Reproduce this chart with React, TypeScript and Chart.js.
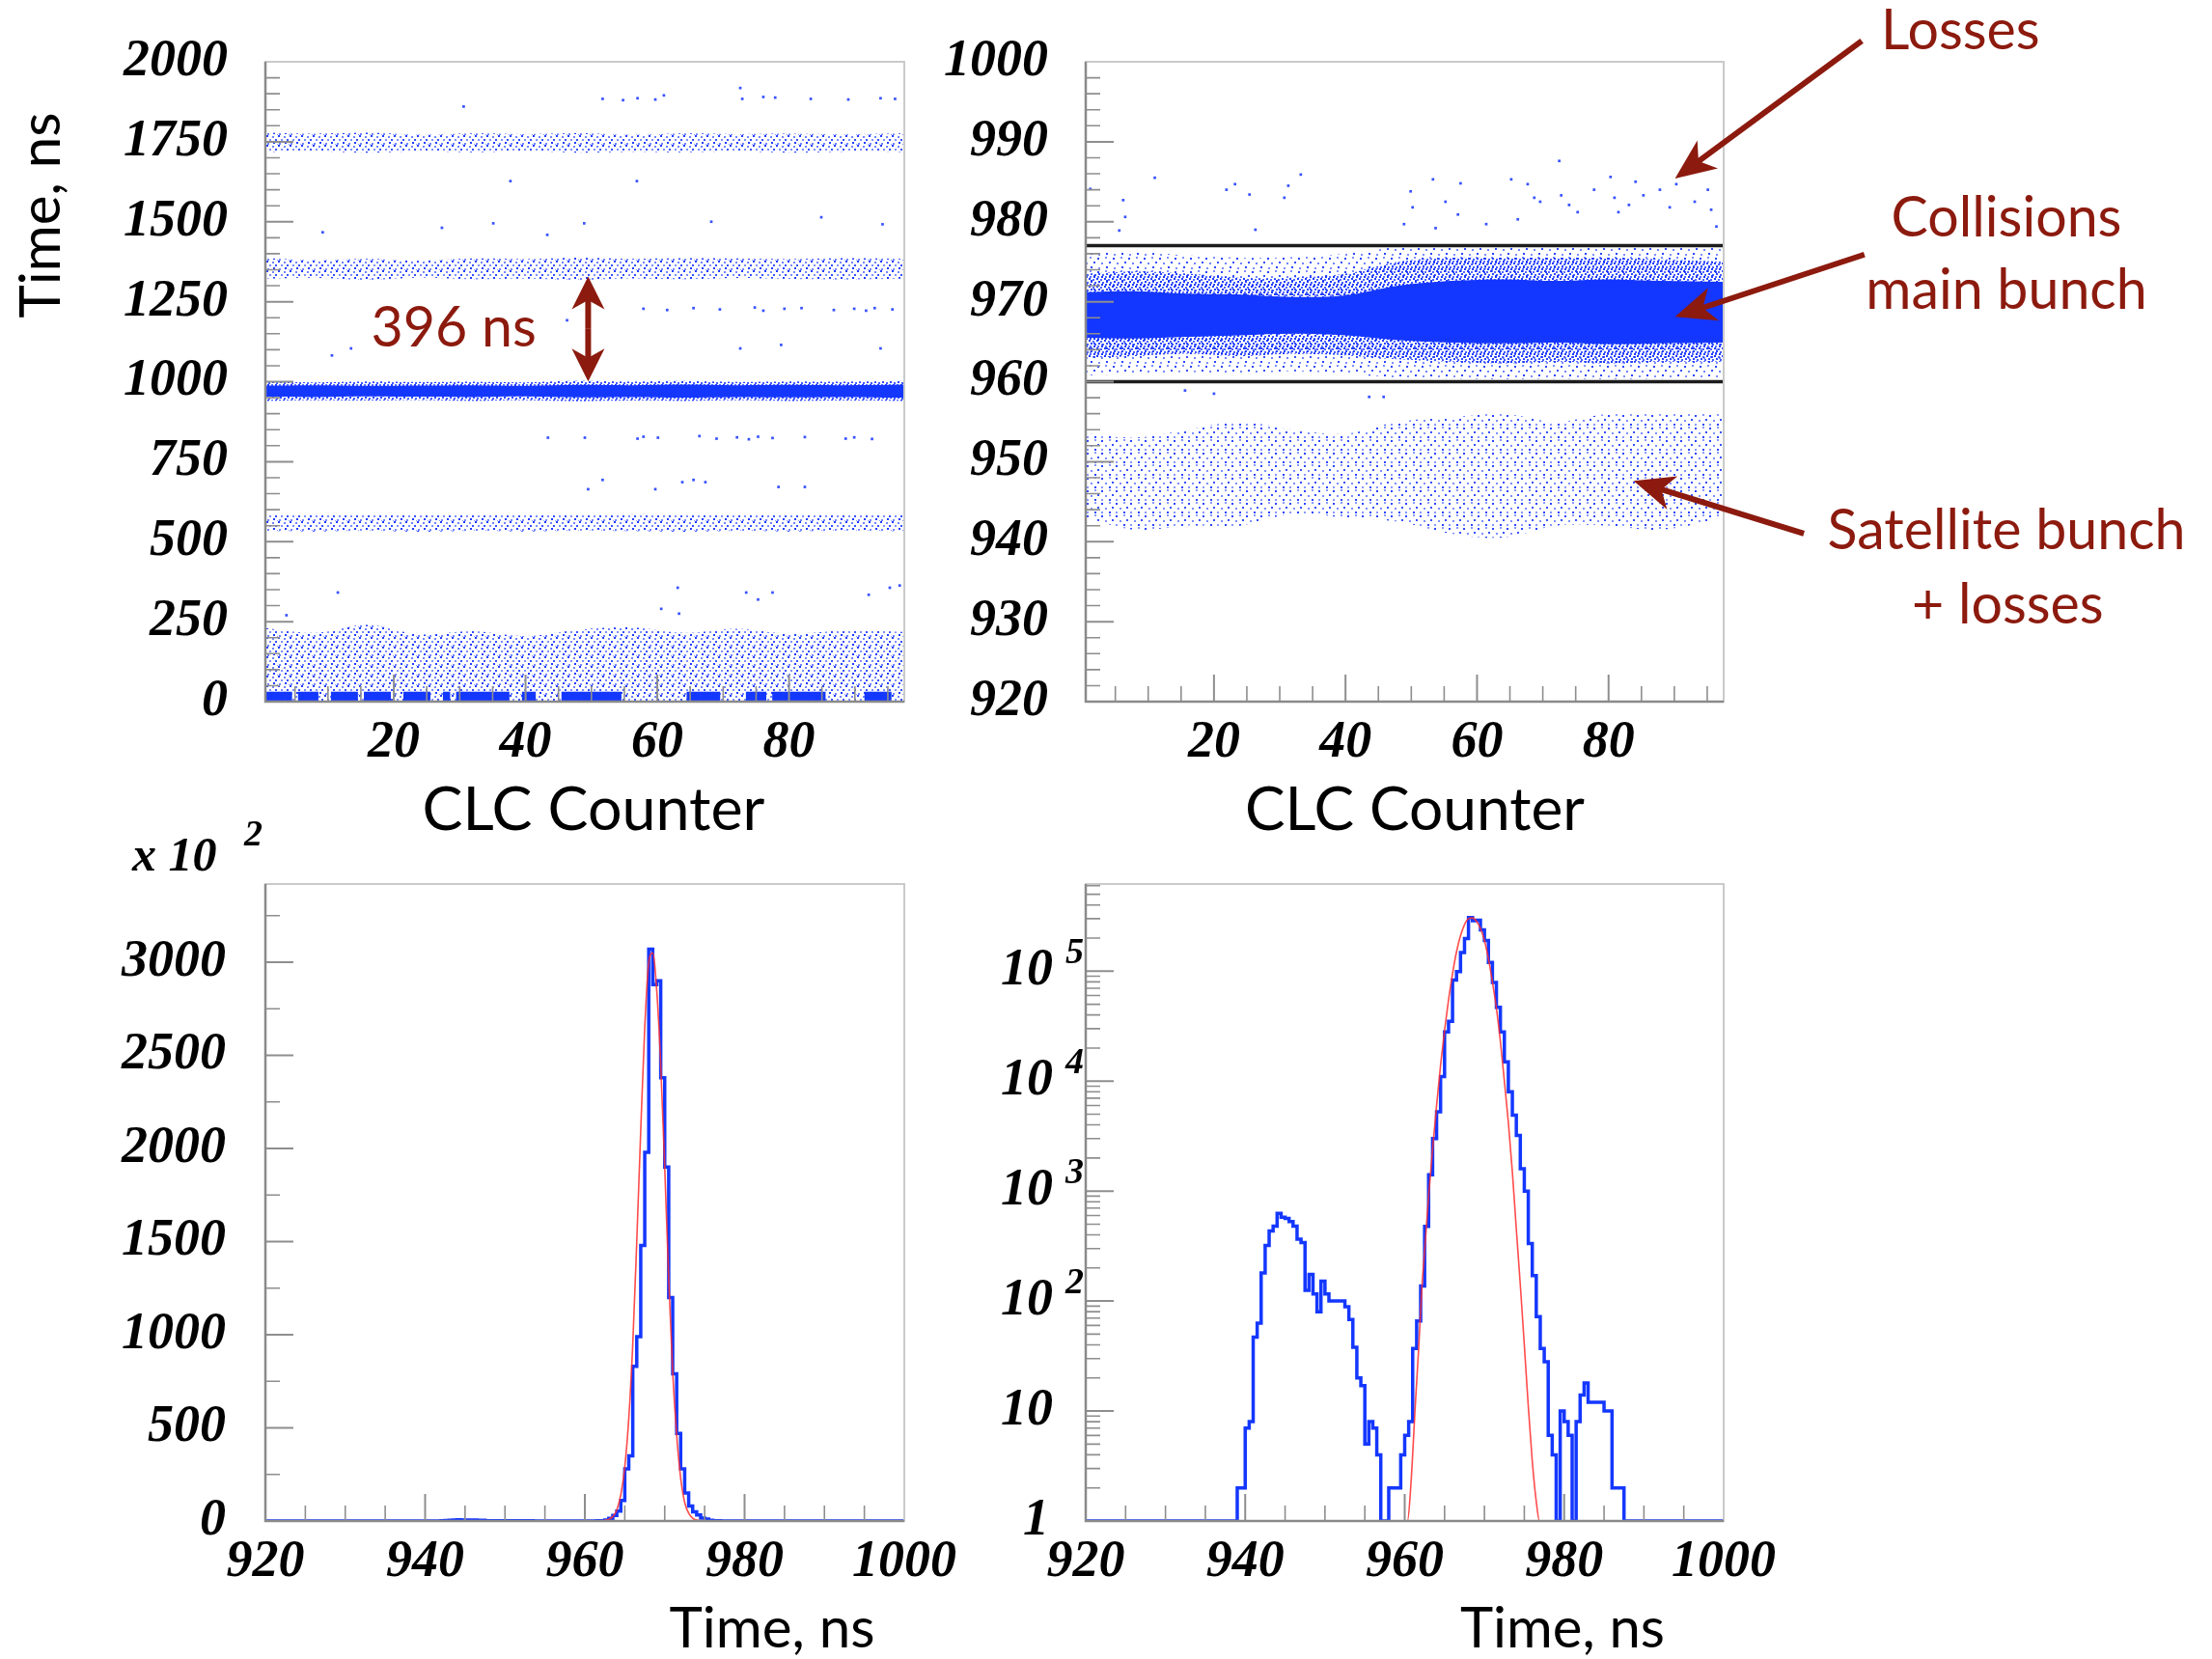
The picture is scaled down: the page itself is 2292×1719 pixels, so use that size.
import React, { useEffect, useRef } from "react";
import { Chart, registerables } from "chart.js";

Chart.register(...registerables);

const PAGE_W = 2292;
const PAGE_H = 1719;

/* ================= DATA ================= */
// --- CLC counter vs time (scatter panels): band edges read per counter sample ---
const counterSamples = [0.5, 8, 16, 24, 32, 40, 48, 56, 64, 72, 80, 88, 97.5];

// wide view (0 - 2000 ns)
const band1750Lo = [1718, 1720, 1716, 1720, 1717, 1721, 1716, 1719, 1717, 1720, 1716, 1719, 1718];
const band1750Hi = [1778, 1775, 1778, 1772, 1776, 1774, 1777, 1772, 1776, 1774, 1775, 1773, 1776];
const band1360Lo = [1322, 1325, 1318, 1326, 1320, 1322, 1318, 1323, 1320, 1324, 1321, 1319, 1322];
const band1360Hi = [1386, 1380, 1384, 1378, 1385, 1383, 1388, 1384, 1386, 1385, 1383, 1386, 1384];
const band975Lo = [953, 952, 954, 953, 952, 954, 951, 952, 950, 952, 951, 952, 950];
const band975Hi = [988, 989, 987, 988, 989, 987, 990, 989, 991, 989, 990, 989, 991];
const band975FuzzLo = [940, 942, 941, 943, 940, 942, 939, 941, 940, 942, 940, 941, 940];
const band975FuzzHi = [1000, 998, 1001, 999, 1000, 998, 1003, 1000, 1002, 999, 1001, 1000, 1002];
const band560Lo = [534, 532, 535, 531, 534, 532, 535, 533, 531, 534, 532, 535, 533];
const band560Hi = [586, 584, 583, 585, 582, 584, 583, 586, 584, 585, 583, 584, 586];
const cloudHi = [230, 215, 240, 210, 220, 205, 225, 232, 215, 228, 212, 222, 218];
const zeroPeakCounters = [1, 2, 3, 4, 6, 7, 8, 11, 12, 13, 14, 16, 17, 18, 19, 22, 23, 24, 25, 28, 30, 31, 32, 33, 34, 35, 36, 37, 40, 41, 46, 47, 48, 49, 50, 51, 52, 53, 54, 65, 66, 67, 68, 69, 74, 75, 76, 78, 79, 80, 81, 82, 83, 84, 85, 92, 93, 94, 95];
const zeroPeakRange = [0, 30];
const wideOutlierCounter = [30.6, 51.7, 54.8, 57.0, 59.7, 61.0, 72.6, 72.9, 76.1, 77.9, 83.3, 89.0, 93.9, 96.1, 37.7, 56.9, 9.2, 27.3, 35.1, 43.3, 48.9, 68.2, 84.9, 94.2, 46.3, 57.9, 61.5, 65.5, 69.5, 74.8, 76.1, 79.3, 81.9, 86.8, 89.9, 91.7, 93.0, 95.7, 10.6, 13.5, 72.6, 78.8, 93.9, 43.4, 49.0, 57.0, 57.9, 60.1, 66.4, 69.0, 72.1, 73.9, 75.3, 77.5, 82.4, 88.6, 89.9, 92.6, 49.5, 51.7, 59.7, 63.8, 65.5, 67.3, 78.4, 82.4, 11.5, 63.1, 60.6, 63.3, 73.5, 75.3, 77.5, 92.1, 95.3, 96.8, 3.7];
const wideOutlierTime = [1860, 1884, 1880, 1886, 1882, 1895, 1918, 1884, 1890, 1888, 1884, 1882, 1886, 1884, 1627, 1627, 1467, 1481, 1495, 1459, 1495, 1500, 1514, 1492, 1192, 1228, 1224, 1230, 1226, 1232, 1222, 1228, 1230, 1224, 1228, 1222, 1230, 1226, 1082, 1104, 1104, 1115, 1104, 825, 825, 822, 828, 825, 830, 822, 826, 820, 828, 824, 827, 822, 826, 821, 664, 693, 664, 686, 693, 686, 671, 671, 341, 356, 290, 275, 341, 319, 341, 334, 356, 363, 270];

// zoomed view (920 - 1000 ns)
const mainCoreLo = [965.5, 965.4, 965.6, 965.8, 966.0, 965.8, 965.2, 964.9, 964.8, 964.9, 964.7, 964.8, 964.9];
const mainCoreHi = [971.2, 971.3, 971.0, 970.9, 970.6, 970.8, 972.0, 972.6, 972.8, 972.6, 972.8, 972.6, 972.5];
const mainMidLo = [963.0, 963.2, 963.5, 963.2, 963.5, 963.3, 962.8, 962.5, 962.3, 962.5, 962.3, 962.5, 962.5];
const mainMidHi = [973.5, 973.8, 973.5, 973.0, 973.0, 973.5, 975.0, 975.5, 975.5, 975.5, 975.5, 975.3, 975.0];
const mainOuterLo = [960.8, 961.0, 961.2, 961.0, 961.3, 961.0, 960.5, 960.4, 960.3, 960.4, 960.3, 960.4, 960.5];
const mainOuterHi = [976.0, 976.2, 975.8, 975.5, 975.6, 976.0, 976.8, 976.8, 976.8, 976.8, 976.8, 976.8, 976.8];
const satLo = [943, 941.5, 942, 942, 943.5, 943, 942.5, 941, 940.5, 942, 942, 941.5, 943];
const satHi = [953.5, 953, 954, 955, 954, 953.5, 955, 955.5, 956, 955, 956, 956, 956];
const cutTimes = [960, 977];
const zoomOutlierCounter = [11.0, 6.2, 6.5, 5.6, 1.2, 21.9, 23.2, 25.4, 31.3, 30.7, 33.2, 26.3, 49.9, 50.2, 53.3, 53.7, 57.5, 65.2, 66.2, 67.7, 68.7, 69.6, 72.5, 72.8, 74.0, 75.3, 77.8, 80.3, 80.9, 81.5, 83.1, 84.1, 85.3, 87.8, 89.3, 90.3, 93.1, 95.1, 95.6, 96.4, 61.4, 57.1, 48.9, 55.2, 43.6, 45.8, 15.6, 20.0];
const zoomOutlierTime = [985.5, 982.7, 980.6, 978.9, 984.1, 984.0, 984.7, 983.4, 984.5, 983.0, 985.9, 979.0, 983.8, 981.8, 985.3, 979.2, 984.8, 985.3, 980.3, 984.7, 983.0, 982.5, 987.6, 983.3, 982.1, 981.2, 984.0, 985.6, 983.0, 981.2, 982.1, 985.0, 983.3, 984.0, 981.8, 984.7, 982.5, 984.0, 981.5, 979.4, 979.7, 980.9, 979.7, 982.5, 958.1, 958.1, 958.9, 958.5];

// --- time histogram: 0.5 ns bins starting at 939.0 ns (counts) ---
const histFirstBin = 939.0;
const histBinWidth = 0.5;
const histCounts = [
  2, 2, 7, 8, 47, 63, 180, 320, 433, 480,
  628, 580, 565, 527, 480, 365, 340, 125, 175, 116,
  80, 152, 116, 100, 100, 100, 100, 89, 68, 38,
  20, 17, 5, 8, 7, 4, 0, 0, 2, 2,
  2, 4, 6, 8, 37, 66, 137, 478, 1410, 3000,
  5250, 11000, 28000, 35000, 83000, 99000, 148000, 198000, 307000, 288000,
  290000, 238000, 190000, 120000, 79000, 47000, 28000, 15000, 8000, 4900,
  3200, 1600, 1000, 334, 170, 72, 37, 28, 6, 4,
  0, 10, 8, 6, 0, 8, 14, 18, 12, 12,
  12, 12, 10, 10, 2, 2, 2,
];
// gaussian fit curve
const fitTimes = [920, 960.35, 960.75, 961.35, 961.75, 962.15, 962.55, 963.0, 963.5, 964.0, 964.5, 965.0, 965.5, 966.0, 966.5, 967.0, 967.5, 968.0, 968.5, 969.0, 969.5, 970.0, 970.5, 971.0, 971.5, 972.0, 972.5, 973.0, 973.5, 974.0, 974.5, 975.0, 975.5, 976.0, 976.5, 976.9, 1000];
const fitCounts = [1, 1, 2, 12, 37, 130, 320, 900, 2400, 6000, 14000, 29000, 55000, 95000, 150000, 210000, 265000, 300000, 305000, 285000, 245000, 190000, 130000, 80000, 46000, 23000, 10000, 4200, 1500, 450, 140, 40, 11, 3.5, 1.5, 1, 1];

// --- tick labels ---
const counterTickLabels = [20, 40, 60, 80];
const wideTimeLabels = [0, 250, 500, 750, 1000, 1250, 1500, 1750, 2000];
const zoomTimeLabels = [920, 930, 940, 950, 960, 970, 980, 990, 1000];
const histTimeLabels = [920, 940, 960, 980, 1000];
const linCountLabels = [0, 500, 1000, 1500, 2000, 2500, 3000];
const logDecades = [1, 10, 100, 1000, 10000, 100000];

/* ================= STYLE ================= */
const SERIF = '"Liberation Serif", "DejaVu Serif", serif';
const SANS = 'Lato, "Open Sans", "Noto Sans", sans-serif';
const BLUE = "#1437ff";
const DOT_RGB = "20,50,255";
const ANNOT = "#8c1a0e";
const tickFont: any = { family: SERIF, size: 54, style: "italic", weight: "bold", lineHeight: 1.2 };

const TILE_SPARSE = { w: 16, h: 14, dots: [[1, 1, 0.9], [9, 0, 0.55], [13, 5, 0.85], [5, 6, 0.6], [10, 10, 0.9], [2, 11, 0.55]] };
const TILE_SAT = { w: 15, h: 13, dots: [[1, 1, 0.9], [9, 0, 0.5], [12, 5, 0.85], [5, 6, 0.55], [9, 10, 0.9], [1, 10, 0.5]] };
const TILE_MED = { w: 12, h: 10, dots: [[0, 0, 0.95], [6, 1, 0.6], [9, 4, 0.85], [3, 4, 0.55], [7, 7, 0.95], [1, 8, 0.6], [11, 9, 0.5]] };
const TILE_DENSE = { w: 8, h: 8, dots: [[0, 0, 0.95], [4, 1, 0.75], [2, 3, 0.9], [6, 4, 0.8], [1, 6, 0.7], [5, 6, 0.95]] };

type Rect = { l: number; t: number; r: number; b: number };
const RECT_TL: Rect = { l: 275, t: 64, r: 937, b: 727 };
const RECT_TR: Rect = { l: 1125, t: 64, r: 1786, b: 727 };
const RECT_BL: Rect = { l: 275, t: 916, r: 937, b: 1576 };
const RECT_BR: Rect = { l: 1125, t: 916, r: 1786, b: 1576 };

function makePattern(ctx: CanvasRenderingContext2D, tile: any) {
  const c = document.createElement("canvas");
  c.width = tile.w;
  c.height = tile.h;
  const g = c.getContext("2d")!;
  tile.dots.forEach(([x, y, a]: number[]) => {
    g.fillStyle = `rgba(${DOT_RGB},${a})`;
    g.fillRect(x, y, 2, 2);
  });
  return ctx.createPattern(c, "repeat");
}

function seq(a: number, b: number, s: number) {
  const r: number[] = [];
  for (let v = a; v <= b + 1e-9; v += s) r.push(+v.toFixed(6));
  return r;
}
function minorOf(a: number, b: number, s: number, major: number[]) {
  return seq(a, b, s).filter((v) => !major.some((m) => Math.abs(m - v) < 1e-9));
}

function baseOptions(rect: Rect, xCfg: any, yCfg: any) {
  return {
    responsive: false,
    maintainAspectRatio: false,
    animation: false,
    devicePixelRatio: 1,
    events: [],
    layout: { padding: { left: 0, top: rect.t, right: PAGE_W - rect.r, bottom: 0 } },
    plugins: { legend: { display: false }, tooltip: { enabled: false }, title: { display: false } },
    scales: {
      x: {
        type: "linear",
        position: "bottom",
        offset: false,
        grid: { display: false },
        border: { display: false },
        afterFit: (s: any) => {
          s.height = PAGE_H - rect.b;
        },
        ...xCfg,
      },
      y: {
        position: "left",
        grid: { display: false },
        border: { display: false },
        afterFit: (s: any) => {
          s.width = rect.l;
        },
        ...yCfg,
      },
    },
  };
}

function labelTicks(list: number[], padding: number) {
  return {
    afterBuildTicks: (s: any) => {
      s.ticks = list.map((value) => ({ value }));
    },
    ticks: {
      font: tickFont,
      color: "#000",
      padding,
      autoSkip: false,
      maxRotation: 0,
      minRotation: 0,
      callback: (v: any) => String(v),
    },
  };
}

function bandPair(lo: number[], hi: number[], fillStyle: any, order: number) {
  const common = { type: "line", borderWidth: 0, borderColor: "rgba(0,0,0,0)", pointRadius: 0, tension: 0.35, order };
  return [
    { ...common, data: counterSamples.map((x, i) => ({ x, y: lo[i] })), fill: false },
    { ...common, data: counterSamples.map((x, i) => ({ x, y: hi[i] })), fill: "-1", backgroundColor: fillStyle },
  ];
}

function fitFontSize(ctx: CanvasRenderingContext2D, text: string, width: number, family: string) {
  ctx.save();
  ctx.font = `100px ${family}`;
  const w = ctx.measureText(text).width;
  ctx.restore();
  return (100 * width) / w;
}

function drawText(ctx: CanvasRenderingContext2D, text: string, x: number, y: number, size: number, color: string, rotate = false) {
  ctx.save();
  ctx.fillStyle = color;
  ctx.font = `${size}px ${SANS}`;
  ctx.textAlign = "center";
  ctx.textBaseline = "alphabetic";
  ctx.translate(x, y);
  if (rotate) ctx.rotate(-Math.PI / 2);
  ctx.fillText(text, 0, 0);
  ctx.restore();
}

function drawArrow(ctx: CanvasRenderingContext2D, x1: number, y1: number, x2: number, y2: number, headLen = 40, headHalf = 17) {
  const dx = x2 - x1, dy = y2 - y1;
  const L = Math.hypot(dx, dy);
  const ux = dx / L, uy = dy / L;
  const nx = -uy, ny = ux;
  ctx.save();
  ctx.strokeStyle = ANNOT;
  ctx.fillStyle = ANNOT;
  ctx.lineWidth = 6;
  ctx.beginPath();
  ctx.moveTo(x1, y1);
  ctx.lineTo(x2 - ux * headLen * 0.6, y2 - uy * headLen * 0.6);
  ctx.stroke();
  ctx.beginPath();
  ctx.moveTo(x2, y2);
  ctx.lineTo(x2 - ux * headLen + nx * headHalf, y2 - uy * headLen + ny * headHalf);
  ctx.lineTo(x2 - ux * headLen * 0.72, y2 - uy * headLen * 0.72);
  ctx.lineTo(x2 - ux * headLen - nx * headHalf, y2 - uy * headLen - ny * headHalf);
  ctx.closePath();
  ctx.fill();
  ctx.restore();
}

type Decor = { xMajor: number[]; xMinor: number[]; yMajor: number[]; yMinor: number[]; extra?: (chart: any) => void };
function makeDecor(id: string, d: Decor) {
  return {
    id,
    afterDraw(chart: any) {
      const { ctx, chartArea: a } = chart;
      const xs = chart.scales.x, ys = chart.scales.y;
      ctx.save();
      ctx.strokeStyle = "#8e8e8e";
      const tickSet = (vals: number[], len: number, lw: number, horiz: boolean) => {
        ctx.lineWidth = lw;
        ctx.beginPath();
        vals.forEach((v) => {
          if (horiz) {
            const p = ys.getPixelForValue(v);
            ctx.moveTo(a.left, p);
            ctx.lineTo(a.left + len, p);
          } else {
            const p = xs.getPixelForValue(v);
            ctx.moveTo(p, a.bottom);
            ctx.lineTo(p, a.bottom - len);
          }
        });
        ctx.stroke();
      };
      tickSet(d.yMinor, 15, 1.6, true);
      tickSet(d.yMajor, 29, 2, true);
      tickSet(d.xMinor, 16, 1.6, false);
      tickSet(d.xMajor, 28, 2, false);
      ctx.strokeStyle = "#cacaca";
      ctx.lineWidth = 2;
      ctx.strokeRect(a.left, a.top, a.right - a.left, a.bottom - a.top);
      ctx.strokeStyle = "#8a8a8a";
      ctx.lineWidth = 2.5;
      ctx.beginPath();
      ctx.moveTo(a.left, a.top);
      ctx.lineTo(a.left, a.bottom);
      ctx.lineTo(a.right, a.bottom);
      ctx.stroke();
      ctx.restore();
      if (d.extra) d.extra(chart);
    },
  };
}

/* ================= PANELS ================= */
function buildWide(ctx: CanvasRenderingContext2D) {
  const med = makePattern(ctx, TILE_MED);
  const dense = makePattern(ctx, TILE_DENSE);
  const datasets: any[] = [
    {
      type: "scatter",
      data: wideOutlierCounter.map((x, i) => ({ x, y: wideOutlierTime[i] })),
      pointStyle: "rect",
      pointRadius: 1.9,
      backgroundColor: `rgba(${DOT_RGB},0.85)`,
      borderWidth: 0,
      showLine: false,
      order: 1,
    },
    {
      type: "bar",
      data: zeroPeakCounters.map((x) => ({ x, y: zeroPeakRange })),
      backgroundColor: BLUE,
      barPercentage: 1,
      categoryPercentage: 1,
      order: 2,
    },
    ...bandPair(band975Lo, band975Hi, BLUE, 3),
    ...bandPair(band975FuzzLo, band975FuzzHi, dense, 4),
    ...bandPair(band1750Lo, band1750Hi, med, 5),
    ...bandPair(band1360Lo, band1360Hi, med, 5),
    ...bandPair(band560Lo, band560Hi, med, 5),
    {
      type: "line",
      data: counterSamples.map((x, i) => ({ x, y: cloudHi[i] })),
      borderWidth: 0,
      borderColor: "rgba(0,0,0,0)",
      pointRadius: 0,
      tension: 0.35,
      fill: { value: 0 },
      backgroundColor: med,
      order: 6,
    },
  ];
  const xMajor = counterTickLabels;
  const yMajor = wideTimeLabels;
  return {
    type: "line",
    data: { datasets },
    options: baseOptions(
      RECT_TL,
      { min: 0.5, max: 97.5, ...labelTicks(counterTickLabels, 3) },
      { type: "linear", min: 0, max: 2000, ...labelTicks(wideTimeLabels, 31) }
    ),
    plugins: [
      makeDecor("decorWide", {
        xMajor,
        xMinor: minorOf(5, 95, 5, xMajor),
        yMajor,
        yMinor: minorOf(0, 2000, 50, yMajor),
        extra: (chart: any) => {
          const c = chart.ctx;
          const a = chart.chartArea;
          const xs = chart.scales.x, ys = chart.scales.y;
          const tSize = fitFontSize(c, "CLC Counter", 355, SANS);
          drawText(c, "CLC Counter", a.left + 340, 860, tSize, "#000");
          const ySize = fitFontSize(c, "Time, ns", 213, SANS);
          drawText(c, "Time, ns", 62, 223, ySize, "#000", true);
          // 396 ns annotation
          const aSize = fitFontSize(c, "Satellite bunch", 371, SANS);
          drawText(c, "396 ns", xs.getPixelForValue(29.1), ys.getPixelForValue(1110), aSize, ANNOT);
          const ax = xs.getPixelForValue(49.5);
          const yTop = ys.getPixelForValue(1329);
          const yBot = ys.getPixelForValue(1001);
          const ym = (yTop + yBot) / 2;
          drawArrow(c, ax, ym, ax, yTop, 34, 17);
          drawArrow(c, ax, ym, ax, yBot, 34, 17);
        },
      }),
    ],
  };
}

function buildZoom(ctx: CanvasRenderingContext2D) {
  const sparse = makePattern(ctx, TILE_SPARSE);
  const sat = makePattern(ctx, TILE_SAT);
  const dense = makePattern(ctx, TILE_DENSE);
  const datasets: any[] = [
    ...cutTimes.map((t) => ({
      type: "line",
      data: [
        { x: 0.5, y: t },
        { x: 97.5, y: t },
      ],
      borderColor: "#1c1c1c",
      borderWidth: 3.5,
      pointRadius: 0,
      fill: false,
      order: 0,
    })),
    {
      type: "scatter",
      data: zoomOutlierCounter.map((x, i) => ({ x, y: zoomOutlierTime[i] })),
      pointStyle: "rect",
      pointRadius: 1.9,
      backgroundColor: `rgba(${DOT_RGB},0.85)`,
      borderWidth: 0,
      showLine: false,
      order: 1,
    },
    ...bandPair(mainCoreLo, mainCoreHi, BLUE, 3),
    ...bandPair(mainMidLo, mainMidHi, dense, 4),
    ...bandPair(mainOuterLo, mainOuterHi, sparse, 5),
    ...bandPair(satLo, satHi, sat, 5),
  ];
  const xMajor = counterTickLabels;
  const yMajor = zoomTimeLabels;
  return {
    type: "line",
    data: { datasets },
    options: baseOptions(
      RECT_TR,
      { min: 0.5, max: 97.5, ...labelTicks(counterTickLabels, 3) },
      { type: "linear", min: 920, max: 1000, ...labelTicks(zoomTimeLabels, 31) }
    ),
    plugins: [
      makeDecor("decorZoom", {
        xMajor,
        xMinor: minorOf(5, 95, 5, xMajor),
        yMajor,
        yMinor: minorOf(920, 1000, 2, yMajor),
        extra: (chart: any) => {
          const c = chart.ctx;
          const a = chart.chartArea;
          const xs = chart.scales.x, ys = chart.scales.y;
          const P = (x: number, y: number) => [xs.getPixelForValue(x), ys.getPixelForValue(y)];
          const tSize = fitFontSize(c, "CLC Counter", 352, SANS);
          drawText(c, "CLC Counter", a.left + 341, 860, tSize, "#000");
          const aSize = fitFontSize(c, "Satellite bunch", 371, SANS);
          const texts: [string, number, number][] = [
            ["Losses", 133.5, 1001.6],
            ["Collisions", 140.5, 978.1],
            ["main bunch", 140.5, 969.1],
            ["Satellite bunch", 140.5, 939.1],
            ["+ losses", 140.7, 929.8],
          ];
          texts.forEach(([t, x, y]) => {
            const [px, py] = P(x, y);
            drawText(c, t, px, py, aSize, ANNOT);
          });
          const arrows: number[][] = [
            [118.5, 1002.6, 90.1, 985.4],
            [118.9, 975.9, 90.1, 968.1],
            [109.7, 941.0, 83.8, 947.6],
          ];
          arrows.forEach(([x1, y1, x2, y2]) => {
            const [p1, q1] = P(x1, y1);
            const [p2, q2] = P(x2, y2);
            drawArrow(c, p1, q1, p2, q2, 42, 18);
          });
        },
      }),
    ],
  };
}

function histPoints(scaleDiv: number, floor: number) {
  const pts: { x: number; y: number }[] = [{ x: 920, y: floor }];
  histCounts.forEach((c, i) => {
    pts.push({ x: histFirstBin + i * histBinWidth, y: Math.max(c / scaleDiv, floor) });
  });
  pts.push({ x: histFirstBin + histCounts.length * histBinWidth, y: floor });
  pts.push({ x: 1000, y: floor });
  return pts;
}

function histDatasets(scaleDiv: number, floor: number) {
  return [
    {
      type: "line",
      data: fitTimes.map((x, i) => ({ x, y: Math.max(fitCounts[i] / scaleDiv, floor) })),
      borderColor: "rgba(255,45,45,0.85)",
      borderWidth: 1.6,
      pointRadius: 0,
      cubicInterpolationMode: "monotone",
      fill: false,
      order: 0,
    },
    {
      type: "line",
      data: histPoints(scaleDiv, floor),
      borderColor: BLUE,
      borderWidth: 3.5,
      pointRadius: 0,
      stepped: "before",
      fill: false,
      order: 1,
    },
  ];
}

function buildLin() {
  const xMajor = histTimeLabels;
  const yMajor = linCountLabels;
  return {
    type: "line",
    data: { datasets: histDatasets(100, 0) },
    options: baseOptions(
      RECT_BL,
      { min: 920, max: 1000, ...labelTicks(histTimeLabels, 3) },
      { type: "linear", min: 0, max: 3420, ...labelTicks(linCountLabels, 33) }
    ),
    plugins: [
      makeDecor("decorLin", {
        xMajor,
        xMinor: minorOf(920, 1000, 5, xMajor),
        yMajor,
        yMinor: seq(250, 3250, 500),
        extra: (chart: any) => {
          const c = chart.ctx;
          const a = chart.chartArea;
          const tSize = fitFontSize(c, "Time, ns", 213, SANS);
          drawText(c, "Time, ns", a.left + 525, 1707, tSize, "#000");
          c.save();
          c.fillStyle = "#000";
          c.textBaseline = "alphabetic";
          c.textAlign = "left";
          c.font = `italic bold 50px ${SERIF}`;
          c.fillText("x 10", a.left - 138, a.top - 14);
          c.font = `italic bold 38px ${SERIF}`;
          c.fillText("2", a.left - 22, a.top - 40);
          c.restore();
        },
      }),
    ],
  };
}

function buildLog() {
  const xMajor = histTimeLabels;
  const yMinor: number[] = [];
  logDecades.forEach((d) => {
    for (let m = 2; m <= 9; m++) if (m * d <= 6.2e5) yMinor.push(m * d);
  });
  return {
    type: "line",
    data: { datasets: histDatasets(1, 1) },
    options: baseOptions(
      RECT_BR,
      { min: 920, max: 1000, ...labelTicks(histTimeLabels, 3) },
      { type: "logarithmic", min: 1, max: 6.2e5, ticks: { display: false } }
    ),
    plugins: [
      makeDecor("decorLog", {
        xMajor,
        xMinor: minorOf(920, 1000, 5, xMajor),
        yMajor: logDecades,
        yMinor,
        extra: (chart: any) => {
          const c = chart.ctx;
          const a = chart.chartArea;
          const ys = chart.scales.y;
          const tSize = fitFontSize(c, "Time, ns", 212, SANS);
          drawText(c, "Time, ns", a.left + 494, 1707, tSize, "#000");
          c.save();
          c.fillStyle = "#000";
          logDecades.forEach((d) => {
            const y = ys.getPixelForValue(d);
            const exp = Math.round(Math.log10(d));
            c.font = `italic bold 54px ${SERIF}`;
            c.textAlign = "right";
            c.textBaseline = "middle";
            if (exp === 0) {
              c.fillText("1", a.left - 38, y);
            } else {
              c.fillText("10", a.left - 34, y);
              if (exp > 1) {
                c.font = `italic bold 38px ${SERIF}`;
                c.textAlign = "left";
                c.textBaseline = "alphabetic";
                c.fillText(String(exp), a.left - 21, y - 8);
              }
            }
          });
          c.restore();
        },
      }),
    ],
  };
}

/* ================= COMPONENTS ================= */
function ChartLayer({ build }: { build: (ctx: CanvasRenderingContext2D) => any }) {
  const ref = useRef<HTMLCanvasElement>(null);
  useEffect(() => {
    const canvas = ref.current;
    if (!canvas) return;
    const ctx = canvas.getContext("2d")!;
    const chart = new Chart(ctx, build(ctx));
    return () => chart.destroy();
  }, []);
  return (
    <canvas
      ref={ref}
      width={PAGE_W}
      height={PAGE_H}
      style={{ position: "absolute", left: 0, top: 0, width: PAGE_W, height: PAGE_H, pointerEvents: "none" }}
    />
  );
}

export default function App() {
  return (
    <div style={{ position: "absolute", left: 0, top: 0, width: PAGE_W, height: PAGE_H, background: "#fff", overflow: "hidden" }}>
      <ChartLayer build={buildWide} />
      <ChartLayer build={buildZoom} />
      <ChartLayer build={buildLin} />
      <ChartLayer build={buildLog} />
    </div>
  );
}
